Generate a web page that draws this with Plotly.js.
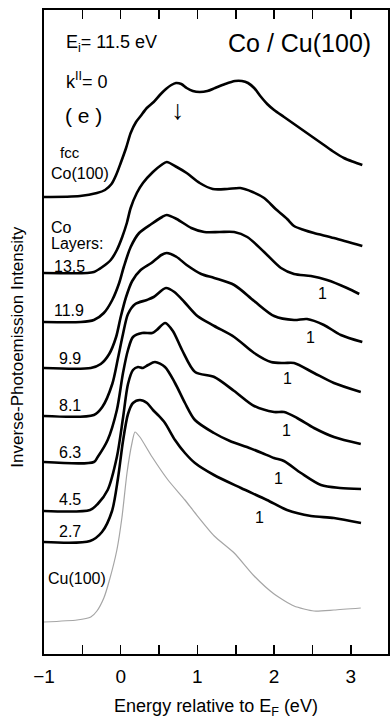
<!DOCTYPE html>
<html><head><meta charset="utf-8">
<script src="https://cdn.plot.ly/plotly-3.0.1.min.js"></script>
<style>html,body{margin:0;padding:0;background:#fff}#chart{width:390px;height:719px}</style>
</head><body><div id="chart"></div>
<script>
// Energy (eV, relative to E_F) and inverse-photoemission intensity (arb. units, curves offset)
const eFcc = [-1.0,-0.53,-0.31,-0.205,-0.12,-0.06,0.0,0.07,0.13,0.20,0.26,0.34,0.43,0.51,0.59,0.66,0.72,0.79,0.86,0.94,1.03,1.13,1.23,1.36,1.49,1.58,1.66,1.74,1.82,1.91,2.0,2.13,2.26,2.39,2.52,2.65,2.78,2.91,3.04,3.15];
const iFcc = [457,458,461,464,470,479,491,506,521,532,538,546,552,559,565,569,571,570,566,563,562,563,566,570,573,573,571,566,558,550,544,537,530,523,516,509,502,496,492,489];

const e135 = [-1.0,-0.44,-0.35,-0.24,-0.13,-0.05,0.02,0.08,0.13,0.21,0.29,0.42,0.53,0.60,0.73,0.86,1.03,1.20,1.39,1.56,1.72,1.87,2.02,2.17,2.26,2.39,2.52,2.78,3.15];
const i135 = [381,381,382,387,394,404,417,431,446,461,471,482,489,492,487,481,471,465,465,466,462,456,445,435,428,424,421,416,408];

const e119 = [-1.0,-0.52,-0.35,-0.22,-0.11,-0.02,0.04,0.13,0.24,0.40,0.54,0.60,0.73,0.92,1.09,1.29,1.48,1.65,1.87,2.09,2.26,2.48,2.69,2.95,3.11];
const i119 = [332,332,334,341,354,371,387,407,421,430,437,439,435,426,422,422,422,417,402,386,380,378,374,366,360];

const e99 = [-1.0,-0.39,-0.26,-0.15,-0.06,0.0,0.07,0.15,0.26,0.40,0.53,0.60,0.73,0.86,1.05,1.22,1.48,1.74,2.0,2.26,2.43,2.65,2.87,3.15];
const i99 = [286,286,290,300,317,337,357,373,384,391,399,401,397,389,380,376,369,353,338,334,335,329,319,312];

const e81 = [-1.0,-0.35,-0.24,-0.11,-0.035,0.03,0.095,0.19,0.34,0.43,0.59,0.70,0.83,1.0,1.22,1.48,1.74,1.96,2.13,2.26,2.52,2.78,3.13];
const i81 = [238,239,247,270,296,320,340,350,354,357,366,362,352,338,328,317,301,292,291,291,281,271,262];

const e63 = [-1.0,-0.35,-0.30,-0.17,-0.05,0.03,0.095,0.16,0.28,0.41,0.47,0.58,0.68,0.80,0.97,1.22,1.48,1.74,2.0,2.13,2.30,2.52,2.78,3.13];
const i63 = [192,192,197,214,244,281,304,317,321,321,324,331,323,304,282,277,263,248,242,242,236,226,217,210];

const e45 = [-1.0,-0.40,-0.30,-0.17,-0.05,0.03,0.095,0.16,0.225,0.29,0.356,0.447,0.577,0.708,0.838,0.968,1.216,1.424,1.646,1.842,1.998,2.128,2.35,2.611,2.859,3.133];
const i45 = [143,144,150,164,197,236,270,284,287,286,289,292,287,271,251,234,221,213,207,201,196,193,181,169,166,165];

const e27 = [-1.0,-0.40,-0.244,-0.113,-0.035,0.03,0.095,0.16,0.251,0.343,0.421,0.486,0.577,0.708,0.838,0.968,1.216,1.568,1.907,2.168,2.481,2.78,3.133];
const i27 = [112,113,122,143,176,213,240,251,254,251,244,239,231,214,201,191,179,166,154,144,138,136,131];

const eCu = [-1.0,-0.57,-0.39,-0.31,-0.22,-0.15,-0.05,0.017,0.082,0.147,0.186,0.25,0.41,0.617,0.838,0.97,1.22,1.48,1.74,2.0,2.26,2.52,2.78,3.13];
const iCu = [32,34,37,43,56,73,104,137,181,211,222,217,197,174,154,141,118,101,78,60,48,43,44,46];

const curveNames = ['fcc Co(100)','13.5','11.9','9.9','8.1','6.3','4.5','2.7','Cu(100)'];
const tickVals = [-1,0,1,2,3];
const tickText = ['\u22121','0','1','2','3'];

const series = [[eFcc,iFcc],[e135,i135],[e119,i119],[e99,i99],[e81,i81],[e63,i63],[e45,i45],[e27,i27],[eCu,iCu]];
const FONT = 'Liberation Sans, Arial, Helvetica, sans-serif';

const traces = series.map((s, k) => {
  const isCu = k === series.length - 1;
  return {
    x: s[0], y: s[1], type: 'scatter', mode: 'lines', name: curveNames[k],
    line: {color: isCu ? '#a5a5a5' : '#000', width: isCu ? 1.2 : 2.6, shape: 'spline', smoothing: isCu ? 0.6 : 0.8},
    hoverinfo: 'skip', showlegend: false
  };
});

function lab(text, x, y, size, anchor) {
  return {text: text, x: x, y: y, xref: 'x', yref: 'y', showarrow: false,
    xanchor: anchor || 'left', yanchor: 'middle', font: {family: FONT, size: size, color: '#000'}};
}

const annotations = [
  lab('E<sub>i</sub>= 11.5 eV', -0.74, 611, 18),
  lab('Co / Cu(100)', 3.29, 611, 25, 'right'),
  lab('k<sup>II</sup>= 0', -0.74, 574, 18),
  lab('( e )', -0.75, 539, 21),
  lab('\u2193', 0.747, 544, 27, 'center'),
  lab('fcc', -0.82, 502, 15),
  lab('Co(100)', -0.93, 481, 16),
  lab('Co', -0.93, 427, 16),
  lab('Layers:', -0.93, 411, 16),
  lab('13.5', -0.90, 388, 16),
  lab('11.9', -0.90, 344, 16),
  lab('9.9', -0.83, 296, 16),
  lab('8.1', -0.83, 249, 16),
  lab('6.3', -0.83, 202, 16),
  lab('4.5', -0.83, 155, 16),
  lab('2.7', -0.83, 123, 16),
  lab('Cu(100)', -0.97, 76, 16),
  lab('1', 2.637, 361, 16, 'center'),
  lab('1', 2.468, 317, 16, 'center'),
  lab('1', 2.181, 276, 16, 'center'),
  lab('1', 2.168, 224, 16, 'center'),
  lab('1', 2.051, 176, 16, 'center'),
  lab('1', 1.816, 137, 16, 'center'),
  {text: 'Inverse-Photoemission Intensity', xref: 'paper', yref: 'paper', x: -0.076, y: 0.477,
   textangle: -90, showarrow: false, xanchor: 'center', yanchor: 'middle',
   font: {family: FONT, size: 17, color: '#000'}}
];

const layout = {
  width: 390, height: 719,
  margin: {l: 44, r: 2, t: 10, b: 65, pad: 0},
  paper_bgcolor: '#fff', plot_bgcolor: '#fff',
  font: {family: FONT, color: '#000'},
  xaxis: {
    range: [-1, 3.485], tickmode: 'array', tickvals: tickVals, ticktext: tickText,
    ticks: 'inside', ticklen: 9, tickwidth: 1.5, tickcolor: '#000',
    minor: {dtick: 0.5, tick0: -1, ticks: 'inside', ticklen: 9, tickwidth: 1.5, tickcolor: '#000', showgrid: false},
    showline: true, linewidth: 2, linecolor: '#000', mirror: 'ticks',
    showgrid: false, zeroline: false, ticklabelstandoff: 4,
    tickfont: {family: FONT, size: 19, color: '#000'},
    title: {text: 'Energy relative to E<sub>F</sub> (eV)', font: {family: FONT, size: 18, color: '#000'}, standoff: 18}
  },
  yaxis: {
    range: [0, 644], showticklabels: false, ticks: '',
    showline: true, linewidth: 2, linecolor: '#000', mirror: true,
    showgrid: false, zeroline: false
  },
  annotations: annotations
};

Plotly.newPlot('chart', traces, layout, {displayModeBar: false, staticPlot: true});
</script>
</body></html>
